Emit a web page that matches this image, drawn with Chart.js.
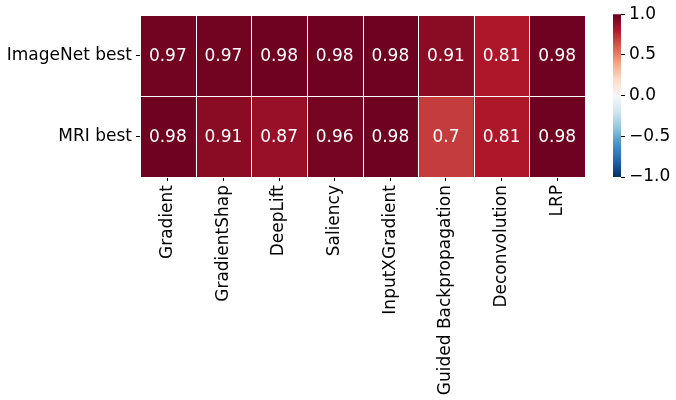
<!DOCTYPE html>
<html>
<head>
<meta charset="utf-8">
<script src="https://cdn.jsdelivr.net/npm/chart.js@4.4.1/dist/chart.umd.min.js"></script>
<style>
  html, body { margin: 0; padding: 0; background: #ffffff; }
  #wrap { position: relative; width: 676px; height: 400px; }
  #wrap canvas { position: absolute; left: 0; top: 0; }
</style>
</head>
<body>
<div id="wrap">
  <canvas id="heat" width="676" height="400"></canvas>
  <canvas id="cbar" width="676" height="400"></canvas>
</div>
<script>
const methods = ["Gradient", "GradientShap", "DeepLift", "Saliency", "InputXGradient", "Guided Backpropagation", "Deconvolution", "LRP"];
const rowLabels = ["ImageNet best", "MRI best"];
const imagenetBest = [0.97, 0.97, 0.98, 0.98, 0.98, 0.91, 0.81, 0.98];
const mriBest = [0.98, 0.91, 0.87, 0.96, 0.98, 0.7, 0.81, 0.98];
const colorbarTicks = [-1.0, -0.5, 0.0, 0.5, 1.0];

const FONT = "'DejaVu Sans', sans-serif";
const FS = 17;
// RdBu_r stops (from -1 to +1)
const RDBU_R = ["#053061", "#2166ac", "#4393c3", "#92c5de", "#d1e5f0", "#f7f7f7", "#fddbc7", "#f4a582", "#d6604d", "#b2182b", "#67001f"];
function hexToRgb(h) { return [parseInt(h.slice(1,3),16), parseInt(h.slice(3,5),16), parseInt(h.slice(5,7),16)]; }
function cmap(v) {
  let t = (v + 1) / 2;
  t = Math.max(0, Math.min(1, t));
  const pos = t * (RDBU_R.length - 1);
  const i = Math.min(Math.floor(pos), RDBU_R.length - 2);
  const f = pos - i;
  const a = hexToRgb(RDBU_R[i]), b = hexToRgb(RDBU_R[i + 1]);
  const c = a.map((x, k) => Math.round(x + (b[k] - x) * f));
  return `rgb(${c[0]},${c[1]},${c[2]})`;
}

const rows = [imagenetBest, mriBest];
const datasets = rows.map((vals, r) => ({
  label: rowLabels[r],
  data: vals.map(() => [r, r + 1]),
  values: vals,
  backgroundColor: vals.map(cmap),
  borderWidth: 0,
  barPercentage: 1,
  categoryPercentage: 1,
  grouped: false
}));

const cellText = {
  id: "cellText",
  afterDatasetsDraw(chart) {
    const ctx = chart.ctx;
    const ca = chart.chartArea;
    const xs = chart.scales.x, ys = chart.scales.y;
    ctx.save();
    // white separators between cells
    ctx.strokeStyle = "#ffffff";
    ctx.lineWidth = 1;
    ctx.beginPath();
    for (let i = 0; i <= methods.length; i++) {
      const x = Math.round(xs.getPixelForValue(i - 0.5)) + 0.5;
      ctx.moveTo(x, ca.top); ctx.lineTo(x, ca.bottom);
    }
    for (let r = 0; r <= rowLabels.length; r++) {
      const y = Math.round(ys.getPixelForValue(r)) + 0.5;
      ctx.moveTo(ca.left, y); ctx.lineTo(ca.right, y);
    }
    ctx.stroke();
    ctx.font = FS + "px " + FONT;
    ctx.fillStyle = "#ffffff";
    ctx.textAlign = "center";
    ctx.textBaseline = "middle";
    chart.data.datasets.forEach((ds, di) => {
      const meta = chart.getDatasetMeta(di);
      meta.data.forEach((bar, i) => {
        const p = bar.getProps(["x", "y", "base"], true);
        ctx.fillText(String(ds.values[i]), p.x, (p.y + p.base) / 2 + 1);
      });
    });
    ctx.restore();
  }
};

new Chart(document.getElementById("heat"), {
  type: "bar",
  data: { labels: methods, datasets },
  options: {
    responsive: false,
    animation: false,
    layout: { padding: { left: 0, right: 91, top: 15, bottom: 0 } },
    plugins: { legend: { display: false }, tooltip: { enabled: false } },
    scales: {
      x: {
        type: "category",
        offset: true,
        grid: { display: true, drawOnChartArea: false, drawTicks: true, tickLength: 4, tickColor: "#000000", offset: false, lineWidth: 1 },
        border: { display: false },
        ticks: { color: "#000000", font: { family: FONT, size: FS }, minRotation: 90, maxRotation: 90, padding: 4, autoSkip: false },
        afterFit(scale) { scale.height = 223; }
      },
      y: {
        type: "linear",
        min: 0, max: 2, reverse: true,
        afterBuildTicks(scale) { scale.ticks = [{ value: 0.5 }, { value: 1.5 }]; },
        grid: { display: true, drawOnChartArea: false, drawTicks: true, tickLength: 4, tickColor: "#000000", lineWidth: 1 },
        border: { display: false },
        ticks: {
          color: "#000000", font: { family: FONT, size: FS }, padding: 4,
          callback(v) { return v === 0.5 ? rowLabels[0] : (v === 1.5 ? rowLabels[1] : ""); }
        },
        afterFit(scale) { scale.width = 140; }
      }
    }
  },
  plugins: [cellText]
});

new Chart(document.getElementById("cbar"), {
  type: "bar",
  data: {
    labels: [""],
    datasets: [{
      data: [[-1, 1]],
      borderWidth: 0,
      barPercentage: 1,
      categoryPercentage: 1,
      backgroundColor(ctx) {
        const ca = ctx.chart.chartArea;
        if (!ca) return "#888";
        const g = ctx.chart.ctx.createLinearGradient(0, ca.bottom, 0, ca.top);
        RDBU_R.forEach((c, i) => g.addColorStop(i / (RDBU_R.length - 1), c));
        return g;
      }
    }]
  },
  options: {
    responsive: false,
    animation: false,
    layout: { padding: { left: 613, right: 0, top: 14, bottom: 0 } },
    plugins: { legend: { display: false }, tooltip: { enabled: false } },
    scales: {
      x: { display: false, afterFit(scale) { scale.height = 223; } },
      y: {
        position: "right",
        min: -1, max: 1,
        afterBuildTicks(scale) { scale.ticks = colorbarTicks.map(v => ({ value: v })); },
        grid: { display: true, drawOnChartArea: false, drawTicks: true, tickLength: 4, tickColor: "#000000", lineWidth: 1 },
        border: { display: false },
        ticks: {
          color: "#000000", font: { family: FONT, size: FS }, padding: 4,
          callback(v) { return (v < 0 ? "\u2212" : "") + Math.abs(v).toFixed(1); }
        },
        afterFit(scale) { scale.width = 55; }
      }
    }
  }
});
</script>
</body>
</html>
